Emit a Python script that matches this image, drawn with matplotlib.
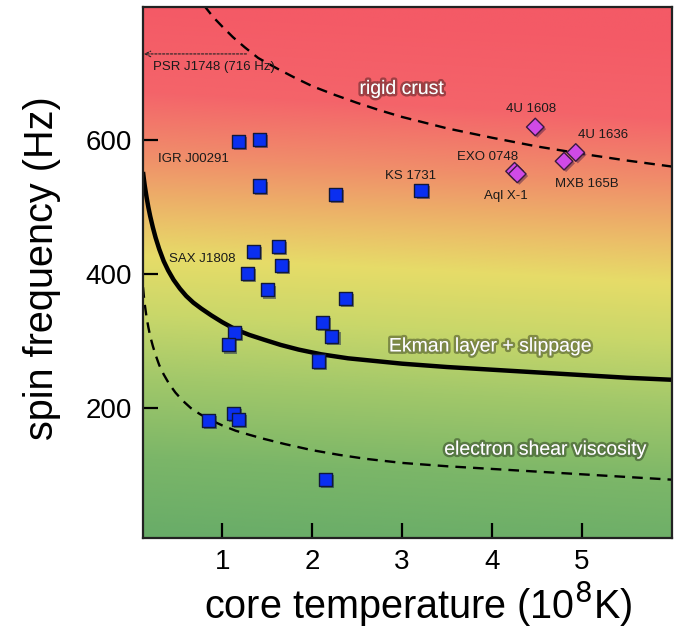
import numpy as np
import matplotlib
matplotlib.use("Agg")
import matplotlib.pyplot as plt
import matplotlib.patheffects as pe
from matplotlib.colors import to_rgb

plt.rcParams['font.family'] = ['Liberation Sans', 'DejaVu Sans']

# ---- data ----
sq_T = [1.18, 1.41, 1.41, 2.26, 3.21, 1.63, 1.35, 1.66, 1.28, 1.50, 2.37, 2.11,
        2.22, 1.14, 1.07, 2.07, 0.85, 1.13, 1.18, 2.15]
sq_f = [598, 601, 531, 519, 524, 441, 433, 413, 400, 376, 363, 328,
        306, 313, 294, 270, 181, 192, 183, 93]

dm_names = ["EXO 0748", "Aql X-1", "4U 1608", "MXB 165B", "4U 1636"]
dm_T = [4.25, 4.28, 4.48, 4.80, 4.93]
dm_f = [553, 549, 619, 568, 581]

crust_T = [0.80, 0.9, 1.0, 1.12, 1.25, 1.4, 1.6, 1.8, 2.0, 2.25, 2.5, 2.75, 3.0,
           3.5, 4.0, 4.5, 5.0, 5.5, 6.0]
crust_f = [800, 783, 769, 753, 738, 722, 707, 693, 680, 667, 655, 644, 634,
           617, 603, 590, 579, 569, 560]

ekman_T = [0.12, 0.13, 0.14, 0.16, 0.18, 0.20, 0.23, 0.26, 0.30, 0.35, 0.40, 0.46,
           0.53, 0.60, 0.68, 0.77, 0.88, 1.0, 1.15, 1.3, 1.46, 1.65, 1.85, 2.1,
           2.4, 2.7, 3.0, 3.5, 4.0, 4.5, 5.0, 5.5, 6.0]
ekman_f = [552, 541, 531, 514, 499, 486, 469, 454, 437, 419, 405, 391,
           378, 367, 357, 348, 338, 328, 317, 309, 302, 294, 287, 280,
           274, 270, 266, 261, 257, 253, 249, 245, 242]

shear_T = [0.12, 0.13, 0.14, 0.16, 0.18, 0.20, 0.23, 0.26, 0.30, 0.35, 0.41, 0.48,
           0.56, 0.65, 0.75, 0.87, 1.0, 1.15, 1.3, 1.46, 1.7, 2.0, 2.3, 2.6,
           3.0, 3.5, 4.0, 4.5, 5.0, 5.5, 6.0]
shear_f = [380, 366, 354, 335, 320, 307, 292, 279, 264, 250, 236, 223,
           211, 200, 191, 182, 174, 166, 160, 154, 146, 137, 130, 124,
           118, 113, 109, 105, 101, 97, 93]

psr_f = 728

x_ticks = [1, 2, 3, 4, 5]
y_ticks = [200, 400, 600]

# ---- figure ----
fig = plt.figure(figsize=(6.77, 6.27), dpi=100)
ax = fig.add_axes([143/677, 1 - 538/627, (672-143)/677, (538-7)/627])
ax.set_xlim(0.12, 6.0)
ax.set_ylim(6, 798)

# background gradient
stops = [(0.00, "#F45A66"), (0.16, "#F4646A"), (0.28, "#F08E6A"), (0.40, "#EBC068"),
         (0.47, "#E6DC68"), (0.58, "#C9D76A"), (0.70, "#A2C86A"), (0.85, "#7BB668"),
         (1.00, "#68AC68")]
sp = np.array([s[0] for s in stops])
sc = np.array([to_rgb(s[1]) for s in stops])
H, W = 400, 300
yy, xx = np.mgrid[0:H, 0:W]
t = yy / (H - 1) - 0.05 * xx / (W - 1)
img = np.stack([np.interp(t, sp, sc[:, k]) for k in range(3)], axis=-1)
ax.imshow(img, extent=[0, 1, 0, 1], transform=ax.transAxes, aspect='auto',
          zorder=0, interpolation='bilinear')

# curves
ax.plot(crust_T, crust_f, color='black', lw=1.7, ls=(0, (4.5, 3)), zorder=2)
ax.plot(ekman_T, ekman_f, color='black', lw=3.2, zorder=2, solid_capstyle='butt',
        solid_joinstyle='round')
ax.plot(shear_T, shear_f, color='black', lw=1.7, ls=(0, (4.5, 3)), zorder=2)

shadow = [pe.SimplePatchShadow(offset=(1.5, -1.5), alpha=0.45), pe.Normal()]
ax.scatter(sq_T, sq_f, marker='s', s=88, c='#0A2FF0', edgecolors='#10183A',
           linewidths=1.0, zorder=4, path_effects=shadow)
ax.scatter(dm_T, dm_f, marker='D', s=80, c='#D04AE6', edgecolors='#3A1A40',
           linewidths=1.0, zorder=4, path_effects=shadow)

# labels for sources
small = dict(fontsize=9.5, color='#1a1a1a', ha='center', va='center', zorder=5)
ax.text(0.68, 572, "IGR J00291", **small)
ax.text(3.09, 546, "KS 1731", **small)
ax.text(0.78, 422, "SAX J1808", **small)
ax.text(4.43, 646, "4U 1608", **small)
ax.text(5.23, 607, "4U 1636", **small)
ax.text(3.95, 575, "EXO 0748", **small)
ax.text(5.05, 534, "MXB 165B", **small)
ax.text(4.15, 516, "Aql X-1", **small)
ax.text(0.23, 708, "PSR J1748 (716 Hz)", fontsize=9.5, color='#1a1a1a',
        ha='left', va='center', zorder=5)
ax.annotate("", xy=(0.13, psr_f), xytext=(1.27, psr_f),
            arrowprops=dict(arrowstyle='->', lw=0.8, ls=(0, (2, 1.5)), color='#222222',
                            shrinkA=0, shrinkB=0), zorder=5)

glow = [pe.withStroke(linewidth=3.5, foreground=(0, 0, 0, 0.35))]
big = dict(fontsize=14, color='white', ha='center', va='center', zorder=6,
           path_effects=glow)
ax.text(3.0, 675, "rigid crust", **big)
ax.text(3.99, 291, "Ekman layer + slippage", **big)
ax.text(4.60, 137, "electron shear viscosity", **big)

# axes styling
ax.set_xticks(x_ticks)
ax.set_yticks(y_ticks)
ax.tick_params(direction='in', length=11, width=1.6, labelsize=20, pad=8,
               top=False, right=False)
for s in ax.spines.values():
    s.set_linewidth(1.6)
    s.set_color('#222222')
    s.set_zorder(7)

fig.text(42/677, 1 - 268/627, "spin frequency (Hz)", rotation=90, fontsize=28.5,
         ha='center', va='center')
fig.text(418/677, 1 - 604/627, r"core temperature (10$^{8}$K)", fontsize=28.5,
         ha='center', va='center')

fig.savefig("out.png", dpi=100)
